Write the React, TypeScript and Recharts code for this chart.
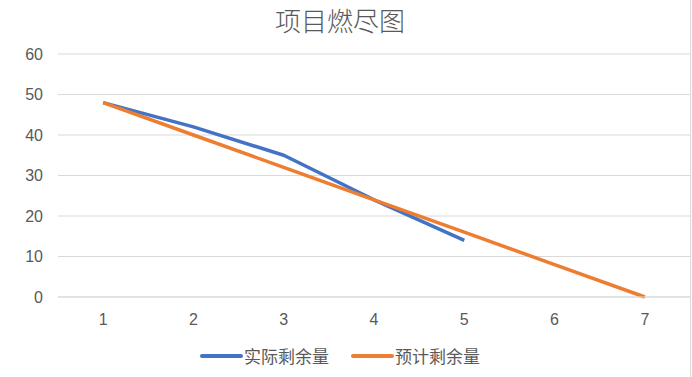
import React from "react";
import { LineChart, Line, XAxis, YAxis, CartesianGrid } from "recharts";

const title = "项目燃尽图";
const days = ["1", "2", "3", "4", "5", "6", "7"];
const actual: (number | null)[] = [48, 42, 35, 24, 14, null, null];
const planned: number[] = [48, 40, 32, 24, 16, 8, 0];
const yTicks = [0, 10, 20, 30, 40, 50, 60];
const seriesNames = ["实际剩余量", "预计剩余量"];
const seriesColors = ["#4472C4", "#ED7D31"];

const data = days.map((d, i) => ({ day: d, actual: actual[i], planned: planned[i] }));

const tickStyle = { fill: "#595959", fontSize: 16, fontFamily: "Liberation Sans, Arial, sans-serif" };

export default function App() {
  return (
    <div style={{ position: "absolute", left: 0, top: 0, width: 692, height: 377, background: "#fff", fontFamily: "'Noto Sans CJK SC', sans-serif" }}>
      <div style={{ position: "absolute", left: 0, top: 2, width: 680, textAlign: "center", fontSize: 26, fontWeight: 300, color: "#595959", lineHeight: "36px" }}>
        {title}
      </div>
      <LineChart width={692} height={377} data={data} margin={{ top: 54, right: 2, left: 0, bottom: 50 }}>
        <CartesianGrid vertical={false} stroke="#d9d9d9" strokeWidth={1} />
        <XAxis dataKey="day" scale="band" height={30} axisLine={{ stroke: "#d9d9d9" }} tickLine={false} tick={tickStyle} tickMargin={11} />
        <YAxis domain={[0, 60]} ticks={yTicks} width={58} axisLine={false} tickLine={false} tick={tickStyle} tickMargin={9} />
        <Line dataKey="actual" name={seriesNames[0]} stroke={seriesColors[0]} strokeWidth={3.5} dot={false} isAnimationActive={false} strokeLinejoin="round" />
        <Line dataKey="planned" name={seriesNames[1]} stroke={seriesColors[1]} strokeWidth={3.5} dot={false} isAnimationActive={false} strokeLinejoin="round" />
      </LineChart>
      <div style={{ position: "absolute", left: 690, top: 0, width: 1, height: 377, background: "#d9d9d9" }} />
      <div style={{ position: "absolute", left: 200, top: 342, display: "flex", alignItems: "center", fontSize: 17, color: "#595959", lineHeight: "28px" }}>
        {seriesNames.map((n, i) => (
          <div key={n} style={{ display: "flex", alignItems: "center", marginRight: i === 0 ? 22 : 0 }}>
            <svg width={44} height={10}>
              <line x1={2} y1={5} x2={41} y2={5} stroke={seriesColors[i]} strokeWidth={4} strokeLinecap="round" />
            </svg>
            <span>{n}</span>
          </div>
        ))}
      </div>
    </div>
  );
}
